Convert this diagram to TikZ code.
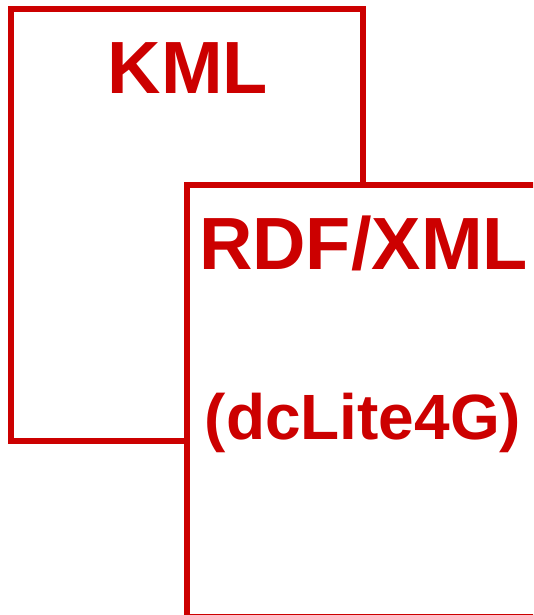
\documentclass[tikz,border=0pt]{standalone}
\usepackage{fontspec}
\setmainfont{Liberation Sans}
\definecolor{kred}{RGB}{204,0,0}
\tikzset{docbox/.style={draw=kred,line width=6pt,fill=white,miter limit=10},
lab/.style={text=kred,font=\bfseries\fontsize{74}{74}\selectfont,inner sep=0pt,anchor=base},
labsmall/.style={text=kred,font=\bfseries\fontsize{64}{64}\selectfont,inner sep=0pt,anchor=base}}
\begin{document}
\begin{tikzpicture}[x=1pt,y=-1pt]
\useasboundingbox (0,0) rectangle (533,615);
\draw[docbox] (11,9) rectangle (363,441);
\clip (0,0) rectangle (533,615);
\draw[docbox] (187,185) -- (545,185) -- (545,617) -- (187,617) -- cycle;
\node[lab] (kml) at (188,94) {KML};
\node[lab] (rdf) at (363.5,269) {RDF/XML};
\node[labsmall] (dc) at (363,439) {(dcLite4G)};
\end{tikzpicture}
\end{document}
